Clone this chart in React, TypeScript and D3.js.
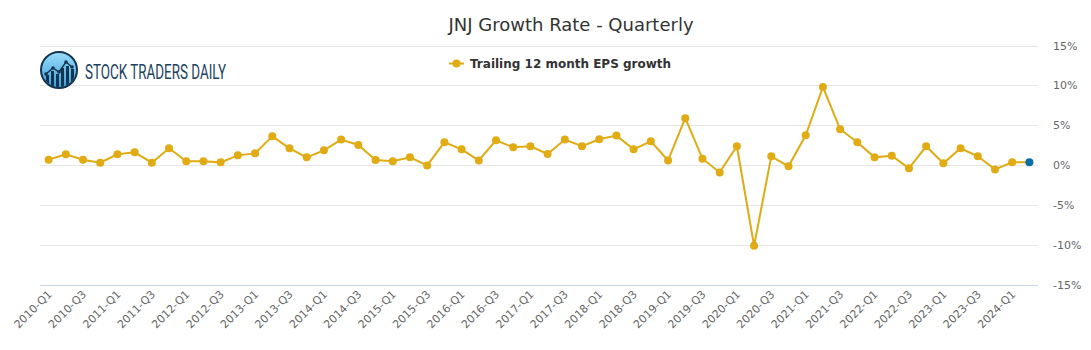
import React from "react";
import * as d3 from "d3";

const categories: string[] = [];
const years = [2010, 2011, 2012, 2013, 2014, 2015, 2016, 2017, 2018, 2019, 2020, 2021, 2022, 2023, 2024];
years.forEach((y) => {
  ["Q1", "Q2", "Q3", "Q4"].forEach((q) => {
    if (y === 2024 && (q === "Q3" || q === "Q4")) return;
    categories.push(`${y}-${q}`);
  });
});

const epsGrowth = [
  0.67, 1.34, 0.67, 0.29, 1.34, 1.59, 0.29, 2.1, 0.46, 0.46,
  0.33, 1.21, 1.46, 3.6, 2.1, 0.96, 1.84, 3.19, 2.52, 0.63,
  0.46, 0.96, -0.05, 2.85, 1.97, 0.58, 3.1, 2.22, 2.35, 1.38,
  3.19, 2.35, 3.23, 3.69, 1.97, 2.98, 0.58, 5.88, 0.79, -0.93,
  2.35, -10.14, 1.09, -0.17, 3.73, 9.79, 4.49, 2.85, 0.96, 1.17,
  -0.42, 2.35, 0.21, 2.1, 1.09, -0.55, 0.33, 0.33,
];

const yTicks = [-15, -10, -5, 0, 5, 10, 15];

const W = 1091;
const H = 350;
const left = 40;
const right = 1038;
const top = 45.5;
const bottom = 284.5;
const lineColor = "#e1ab13";
const lastColor = "#0b6fa6";
const font = "'DejaVu Sans', sans-serif";

export default function App() {
  const x = d3.scalePoint<string>().domain(categories).range([left, right]).padding(0.5);
  const y = d3.scaleLinear().domain([-15, 15]).range([bottom, top]);
  const data = categories.map((c, i) => ({ c, v: epsGrowth[i] }));
  const line = d3
    .line<{ c: string; v: number }>()
    .x((d) => x(d.c) as number)
    .y((d) => y(d.v));
  const labelCats = categories.filter((_, i) => i % 2 === 0);

  return (
    <svg
      width={W}
      height={H}
      style={{ position: "absolute", left: 0, top: 0, fontFamily: font }}
    >
      <rect width={W} height={H} fill="#ffffff" />
      {yTicks.map((t) => (
        <g key={t}>
          <line
            x1={left}
            x2={right}
            y1={Math.round(y(t)) + 0.5}
            y2={Math.round(y(t)) + 0.5}
            stroke={t === -15 ? "#ccd6eb" : "#e6e6e6"}
            strokeWidth={1}
          />
          <text x={1053} y={y(t) + 4} fontSize={11} fill="#666666">
            {`${t}%`}
          </text>
        </g>
      ))}
      {labelCats.map((c) => {
        const px = (x(c) as number) + 4;
        const py = 295;
        return (
          <text
            key={c}
            x={px}
            y={py}
            fontSize={11}
            fill="#666666"
            textAnchor="end"
            transform={`rotate(-45 ${px} ${py})`}
          >
            {c}
          </text>
        );
      })}
      <path d={line(data) || ""} fill="none" stroke={lineColor} strokeWidth={2} />
      {data.map((d, i) => (
        <circle
          key={d.c}
          cx={x(d.c) as number}
          cy={y(d.v)}
          r={4}
          fill={i === data.length - 1 ? lastColor : lineColor}
        />
      ))}
      {/* title */}
      <text x={571} y={31} fontSize={18} fill="#333333" textAnchor="middle">
        JNJ Growth Rate - Quarterly
      </text>
      {/* legend */}
      <line x1={449} x2={464} y1={63.5} y2={63.5} stroke={lineColor} strokeWidth={2} />
      <circle cx={456.5} cy={63.5} r={4} fill={lineColor} />
      <text x={470} y={68} fontSize={12} fontWeight="bold" fill="#333333">
        Trailing 12 month EPS growth
      </text>
      {/* logo */}
      <defs>
        <linearGradient id="logoGrad" x1="0" y1="0" x2="0" y2="1">
          <stop offset="0%" stopColor="#9adcfb" />
          <stop offset="100%" stopColor="#3b9fdc" />
        </linearGradient>
        <clipPath id="logoClip">
          <circle cx={59} cy={70} r={17} />
        </clipPath>
      </defs>
      <circle cx={59} cy={70} r={18} fill="url(#logoGrad)" stroke="#15344f" strokeWidth={2} />
      <g clipPath="url(#logoClip)" fill="#15344f">
        <rect x={46} y={75} width={3} height={15} />
        <rect x={51} y={71} width={3} height={19} />
        <rect x={56} y={74} width={3} height={16} />
        <rect x={61} y={68} width={3} height={22} />
        <rect x={66} y={66} width={3} height={24} />
        <rect x={71} y={69} width={3} height={21} />
      </g>
      <polyline
        points="46,74 53,68 59,72 66,62 72,67"
        fill="none"
        stroke="#15344f"
        strokeWidth={1.5}
      />
      {[
        [46, 74],
        [53, 68],
        [59, 72],
        [66, 62],
        [72, 67],
      ].map(([cx, cy], i) => (
        <circle key={i} cx={cx} cy={cy} r={1.8} fill="#15344f" />
      ))}
      <text
        x={85}
        y={79}
        fontSize={20}
        fill="#1b4263"
        fontFamily="'Liberation Sans Narrow', 'Roboto', sans-serif"
        textLength={141}
        lengthAdjust="spacingAndGlyphs"
      >
        STOCK TRADERS DAILY
      </text>
    </svg>
  );
}
